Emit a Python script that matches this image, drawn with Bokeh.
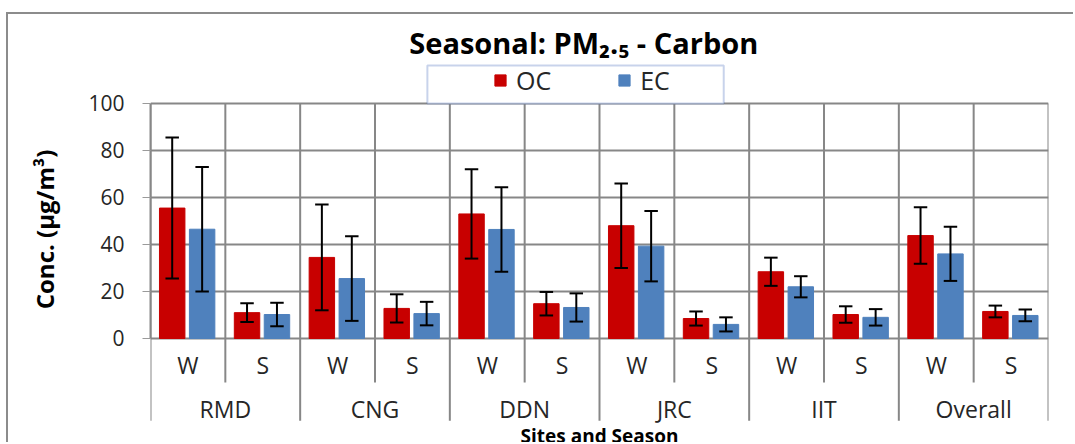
import numpy as np
from bokeh.plotting import figure
from bokeh.models import Range1d, FixedTicker, BoxAnnotation, Legend, LegendItem, ColumnDataSource
from bokeh.core.properties import value
from bokeh.embed import file_html
from bokeh.resources import INLINE

# ---- data ----
sites = ["RMD", "CNG", "DDN", "JRC", "IIT", "Overall"]
seasons = ["W", "S"]
oc = [55.5, 11.0, 34.5, 12.8, 53.0, 14.8, 48.0, 8.5, 28.4, 10.2, 43.8, 11.5]
oc_err = [30.0, 4.0, 22.5, 6.0, 19.0, 5.0, 18.0, 3.0, 6.0, 3.5, 12.0, 2.5]
ec = [46.5, 10.2, 25.5, 10.6, 46.4, 13.2, 39.3, 6.0, 22.0, 9.0, 36.0, 9.8]
ec_err = [26.5, 5.0, 18.0, 5.0, 18.0, 6.0, 15.0, 3.0, 4.5, 3.5, 11.5, 2.5]
y_ticks = [0, 20, 40, 60, 80, 100]
title = "Seasonal: PM\u2082.\u2085 - Carbon"
y_title = "Conc. (\u00b5g/m\u00b3)"
x_title = "Sites and Season"

FONT = "Open Sans"
GRID = "#878787"
RED = "#c80000"
BLUE = "#4f81bd"
TXT = "#262626"

n = len(sites) * len(seasons)
idx = np.arange(n)
season_labels = [s for _ in sites for s in seasons]

W, H = 1067, 430
p = figure(width=W, height=H, output_backend="svg", toolbar_location=None,
           x_range=Range1d(0, n), y_range=Range1d(-45.11, 137.87),
           x_axis_location=None,
           min_border_left=142, min_border_right=27,
           min_border_top=0, min_border_bottom=0)
p.margin = (12, 0, 0, 6)
p.styles = {"border-top": "2px solid #8c8c8c", "border-left": "2px solid #8c8c8c",
            "vertical-align": "top"}
p.outline_line_color = None
p.background_fill_color = "white"
p.border_fill_color = "white"

# y axis
p.yaxis.ticker = FixedTicker(ticks=y_ticks)
p.yaxis.bounds = (0, 100)
p.yaxis.axis_line_color = GRID
p.yaxis.axis_line_width = 2
p.yaxis.major_tick_in = 0
p.yaxis.major_tick_out = 8
p.yaxis.major_tick_line_color = "#9a9a9a"
p.yaxis.minor_tick_line_color = None
p.yaxis.major_label_standoff = 18
p.yaxis.major_label_text_font = FONT
p.yaxis.major_label_text_font_size = "21px"
p.yaxis.major_label_text_color = TXT
p.yaxis.axis_label = y_title
p.yaxis.axis_label_text_font = FONT
p.yaxis.axis_label_text_font_size = "24px"
p.yaxis.axis_label_text_font_style = "bold"
p.yaxis.axis_label_text_color = "black"
p.yaxis.axis_label_standoff = 24
p.xgrid.visible = False
p.ygrid.ticker = FixedTicker(ticks=y_ticks)
p.ygrid.grid_line_color = GRID
p.ygrid.grid_line_width = 2

# vertical separators (sub-category and site boundaries)
bounds = np.arange(n + 1)
low = np.where(bounds % 2 == 0, -35.0, -18.7)
p.segment(x0=bounds, x1=bounds, y0=np.full(n + 1, 100.0), y1=low,
          line_color=GRID, line_width=2)

# bars
src = ColumnDataSource(dict(
    x_oc=idx + 0.29, x_ec=idx + 0.69,
    oc=oc, ec=ec,
    oc_lo=np.array(oc) - np.array(oc_err), oc_hi=np.array(oc) + np.array(oc_err),
    ec_lo=np.array(ec) - np.array(ec_err), ec_hi=np.array(ec) + np.array(ec_err),
))
r_oc = p.vbar(x="x_oc", top="oc", bottom=0, width=0.34, source=src,
              fill_color=RED, line_color=RED)
r_ec = p.vbar(x="x_ec", top="ec", bottom=0, width=0.34, source=src,
              fill_color=BLUE, line_color=BLUE)

# error bars
cap = 0.09
for xc, lo, hi in (("x_oc", "oc_lo", "oc_hi"), ("x_ec", "ec_lo", "ec_hi")):
    xs = np.array(src.data[xc])
    p.segment(x0=xs, x1=xs, y0=src.data[lo], y1=src.data[hi], line_color="black", line_width=2)
    p.segment(x0=xs - cap, x1=xs + cap, y0=src.data[hi], y1=src.data[hi], line_color="black", line_width=2)
    p.segment(x0=xs - cap, x1=xs + cap, y0=src.data[lo], y1=src.data[lo], line_color="black", line_width=2)

# category labels
p.text(x=idx + 0.5, y=np.full(n, -11.3), text=season_labels,
       text_font=value(FONT), text_font_size="23px", text_color=TXT,
       text_align="center", text_baseline="middle")
p.text(x=np.arange(len(sites)) * 2 + 1.0, y=np.full(len(sites), -29.8), text=sites,
       text_font=value(FONT), text_font_size="23px", text_color=TXT,
       text_align="center", text_baseline="middle")
p.text(x=[6.0], y=[-41.5], text=[x_title],
       text_font=value(FONT), text_font_size="19px", text_font_style="bold",
       text_color="black", text_align="center", text_baseline="alphabetic")

# chart title
p.text(x=[5.79], y=[126.0], text=[title],
       text_font=value(FONT), text_font_size="29px", text_font_style="bold",
       text_align="center", text_baseline="middle", text_color="black")

# legend box and legend
p.add_layout(BoxAnnotation(left=3.70, right=7.66, top=116.2, bottom=100,
                           fill_color="white", fill_alpha=1, line_color="#4a6ebc", line_width=2))
legend = Legend(items=[LegendItem(label="OC", renderers=[r_oc]),
                       LegendItem(label="EC", renderers=[r_ec])],
                orientation="horizontal", location=(343, 347),
                padding=0, margin=0, spacing=66,
                glyph_width=14, glyph_height=14, label_standoff=9,
                label_text_font=FONT, label_text_font_size="25px",
                label_text_color=TXT,
                border_line_color=None, background_fill_alpha=0)
p.add_layout(legend, "center")

open("out.html", "w").write(file_html(p, INLINE))
